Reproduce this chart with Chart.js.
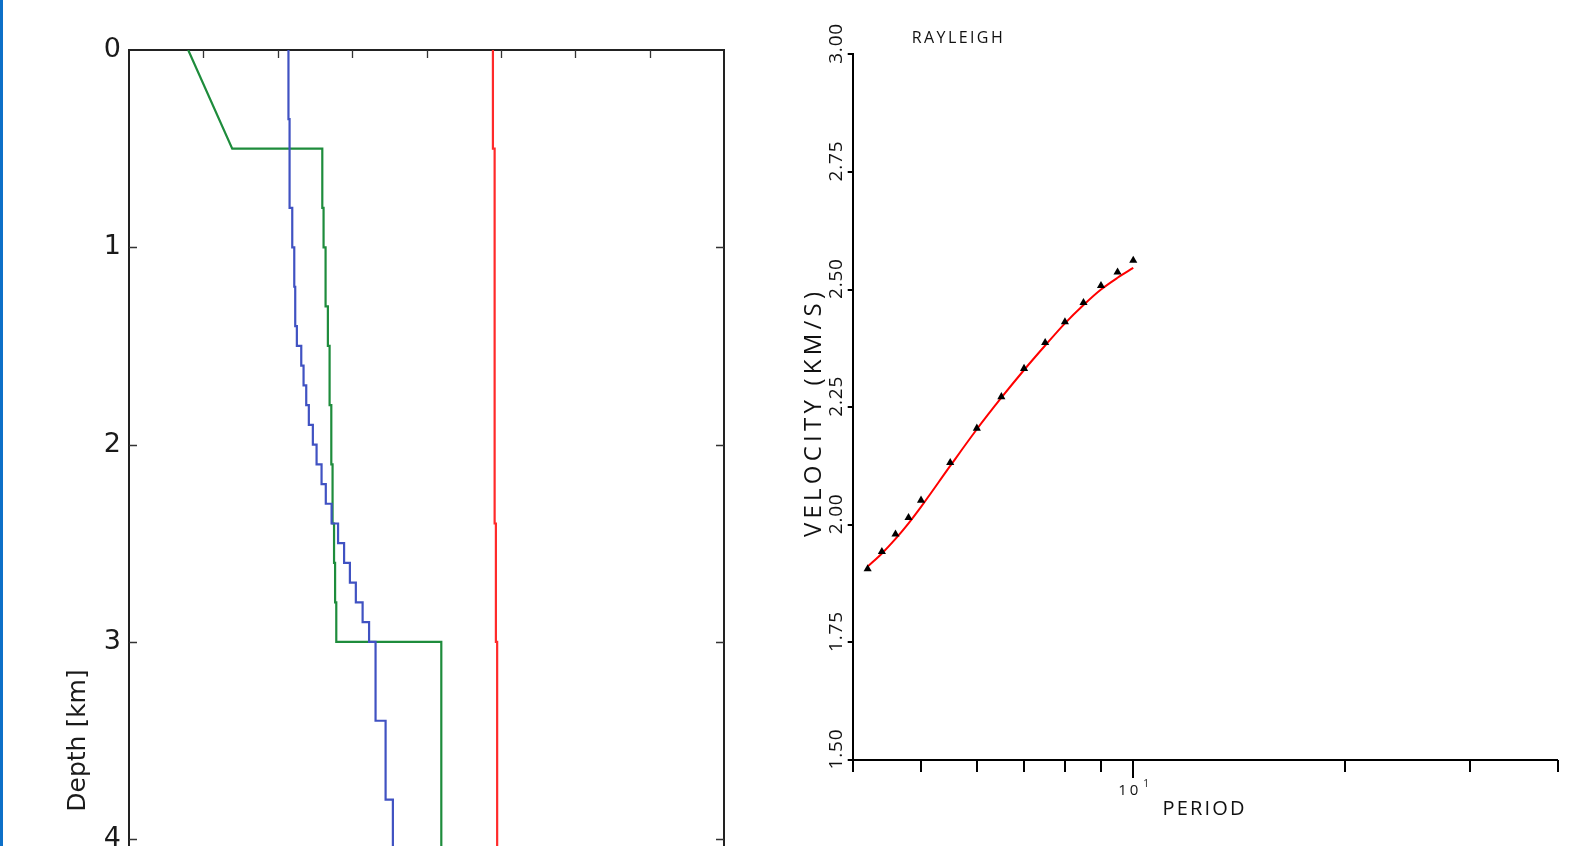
<!DOCTYPE html>
<html>
<head>
<meta charset="utf-8">
<script src="https://cdn.jsdelivr.net/npm/chart.js@4.4.1/dist/chart.umd.min.js"></script>
<style>
  html, body { margin: 0; padding: 0; background: #ffffff; overflow: hidden; width: 1581px; height: 846px; }
  #edge { position: absolute; left: 0; top: 0; width: 3px; height: 846px; background: #0d70c8; }
  #c1 { position: absolute; left: 0; top: 0; }
  #c2 { position: absolute; left: 760px; top: 0; }
</style>
</head>
<body>
<div id="edge"></div>
<canvas id="c1" width="760" height="1431"></canvas>
<canvas id="c2" width="821" height="846"></canvas>
<script>
// ================= LEFT PANEL: layered model vs depth =================
const depthTickValues = [0, 1, 2, 3, 4, 5, 6];
const modelTopTicks   = [1, 2, 3, 4, 5, 6, 7];
const modelBottom = 7;

// blue profile (layer top depth, value)
const blueDepth = [0, 0.35, 0.8, 1.0, 1.2, 1.4, 1.5, 1.6, 1.7, 1.8, 1.9, 2.0, 2.1, 2.2, 2.3, 2.4, 2.5, 2.6, 2.7, 2.8, 2.9, 3.0, 3.4, 3.8];
const blueValue = [2.144, 2.159, 2.195, 2.222, 2.235, 2.257, 2.316, 2.347, 2.383, 2.418, 2.472, 2.522, 2.589, 2.646, 2.724, 2.811, 2.892, 2.970, 3.050, 3.141, 3.228, 3.315, 3.450, 3.548];

// green profile: gradient near surface, then layers
const greenGradientDepth = [0, 0.5];
const greenGradientValue = [0.796, 1.388];
const greenDepth = [0.5, 0.8, 1.0, 1.3, 1.5, 1.8, 2.1, 2.4, 2.6, 2.8, 3.0];
const greenValue = [2.599, 2.616, 2.643, 2.674, 2.697, 2.720, 2.737, 2.757, 2.771, 2.787, 4.199];

// red profile
const redDepth = [0, 0.5, 2.4, 3.0];
const redValue = [4.893, 4.916, 4.933, 4.950];

function staircase(depths, values, bottom, lead) {
  const pts = lead ? lead.slice() : [];
  for (let i = 0; i < depths.length; i++) {
    const top = depths[i];
    const bot = i + 1 < depths.length ? depths[i + 1] : bottom;
    pts.push({ x: values[i], y: top });
    pts.push({ x: values[i], y: bot });
  }
  return pts;
}

const greenLead = greenGradientDepth.map((d, i) => ({ x: greenGradientValue[i], y: d }));

const frameTicksPlugin = {
  id: 'frameTicks',
  afterDraw(chart) {
    const { ctx, chartArea: a, scales: { x, y } } = chart;
    ctx.save();
    ctx.strokeStyle = '#222';
    ctx.lineWidth = 2;
    ctx.beginPath();
    ctx.moveTo(a.right, a.top - 1); ctx.lineTo(a.right, a.bottom);
    ctx.moveTo(a.left, a.bottom); ctx.lineTo(a.right, a.bottom);
    ctx.stroke();
    ctx.lineWidth = 1.3;
    ctx.strokeStyle = '#333';
    ctx.beginPath();
    modelTopTicks.forEach(v => {
      const px = Math.round(x.getPixelForValue(v)) + 0.5;
      ctx.moveTo(px, a.top); ctx.lineTo(px, a.top + 8);
      ctx.moveTo(px, a.bottom); ctx.lineTo(px, a.bottom - 8);
    });
    depthTickValues.forEach(v => {
      if (v === 0) return;
      const py = Math.round(y.getPixelForValue(v)) + 0.5;
      ctx.moveTo(a.left, py); ctx.lineTo(a.left + 8, py);
      ctx.moveTo(a.right, py); ctx.lineTo(a.right - 8, py);
    });
    ctx.stroke();
    ctx.restore();
  }
};

new Chart(document.getElementById('c1'), {
  type: 'scatter',
  data: {
    datasets: [
      { data: staircase(redDepth, redValue, modelBottom), borderColor: '#ff2a2a' },
      { data: staircase(blueDepth, blueValue, modelBottom), borderColor: '#4052c2' },
      { data: staircase(greenDepth, greenValue, modelBottom, greenLead), borderColor: '#1e8c3c' }
    ].map(d => Object.assign(d, { showLine: true, pointRadius: 0, borderWidth: 2.2, tension: 0, fill: false }))
  },
  options: {
    responsive: false,
    animation: false,
    events: [],
    layout: { autoPadding: false, padding: { left: 0, top: 0, right: 36, bottom: 0 } },
    plugins: { legend: { display: false }, tooltip: { enabled: false } },
    scales: {
      x: {
        type: 'linear', position: 'top', min: 0, max: 8,
        ticks: { display: false, stepSize: 1 },
        grid: { display: false, drawTicks: false },
        border: { display: true, width: 2, color: '#222' },
        afterFit(s) { s.height = 50; s.paddingLeft = 0; s.paddingRight = 0; }
      },
      y: {
        type: 'linear', position: 'left', reverse: true, min: 0, max: modelBottom,
        afterBuildTicks(s) { s.ticks = depthTickValues.map(v => ({ value: v })); },
        ticks: { font: { family: 'DejaVu Sans', size: 27 }, color: '#1a1a1a', padding: 8 },
        grid: { display: false, drawTicks: false },
        border: { display: true, width: 2, color: '#222' },
        title: { display: true, text: 'Depth [km]', font: { family: 'DejaVu Sans', size: 25 }, color: '#1a1a1a', padding: { top: 63, bottom: 0 } },
        afterFit(s) { s.width = 129; s.paddingTop = 0; s.paddingBottom = 0; }
      }
    }
  },
  plugins: [frameTicksPlugin]
});

// ================= RIGHT PANEL: Rayleigh dispersion =================
const periods  = [4.2, 4.4, 4.6, 4.8, 5.0, 5.5, 6.0, 6.5, 7.0, 7.5, 8.0, 8.5, 9.0, 9.5, 10.0];
const observed = [1.906, 1.943, 1.980, 2.015, 2.052, 2.132, 2.205, 2.272, 2.332, 2.387, 2.431, 2.472, 2.508, 2.537, 2.562];
const fitted   = [1.911, 1.939, 1.970, 2.003, 2.038, 2.125, 2.203, 2.270, 2.329, 2.381, 2.428, 2.467, 2.500, 2.525, 2.546];
const periodTicks   = [4, 5, 6, 7, 8, 9, 10, 20, 30, 40];
const periodMajor   = [10];
const velocityTicks = [1.50, 1.75, 2.00, 2.25, 2.50, 2.75, 3.00];
const titleText  = 'RAYLEIGH';
const xTitleText = 'PERIOD';
const yTitleText = 'VELOCITY (KM/S)';

const TXT_FONT = '"Open Sans", "Liberation Sans", sans-serif';

function spacedText(ctx, text, x, y, size, target, rot) {
  ctx.save();
  ctx.font = size + 'px ' + TXT_FONT;
  ctx.fillStyle = '#111';
  ctx.textBaseline = 'alphabetic';
  ctx.textAlign = 'left';
  const natural = ctx.measureText(text).width;
  const n = text.length;
  const sp = n > 1 ? (target - natural) / (n - 1) : 0;
  if ('letterSpacing' in ctx) ctx.letterSpacing = sp + 'px';
  ctx.translate(x, y);
  if (rot) ctx.rotate(rot);
  ctx.fillText(text, 0, 0);
  ctx.restore();
}

const dispersionAxesPlugin = {
  id: 'dispersionAxes',
  afterDraw(chart) {
    const { ctx, chartArea: a, scales: { x, y } } = chart;
    ctx.save();
    ctx.strokeStyle = '#000';
    ctx.lineWidth = 2;
    ctx.beginPath();
    periodTicks.forEach(p => {
      const px = Math.round(x.getPixelForValue(p));
      const len = periodMajor.includes(p) ? 18 : 12;
      ctx.moveTo(px, a.bottom); ctx.lineTo(px, a.bottom + len);
    });
    velocityTicks.forEach(v => {
      const py = Math.round(y.getPixelForValue(v));
      ctx.moveTo(a.left, py); ctx.lineTo(a.left - 5, py);
    });
    ctx.stroke();
    ctx.restore();

    // y tick labels (rotated)
    velocityTicks.forEach(v => {
      const py = y.getPixelForValue(v) - 10.5;
      spacedText(ctx, v.toFixed(2), a.left - 10.5, py + 20, 19, 40, -Math.PI / 2);
    });
    // x tick label 10^1
    periodMajor.forEach(p => {
      const px = x.getPixelForValue(p);
      spacedText(ctx, '10', px - 15, a.bottom + 35, 15, 20, 0);
      spacedText(ctx, '1', px + 10, a.bottom + 27, 10, 5, 0);
    });
    // titles
    spacedText(ctx, titleText, 151.7, 43.3, 16, 91, 0);
    spacedText(ctx, xTitleText, 402.6, 815, 20, 82, 0);
    spacedText(ctx, yTitleText, 60.5, 537, 24, 245, -Math.PI / 2);
  }
};

new Chart(document.getElementById('c2'), {
  type: 'scatter',
  data: {
    datasets: [
      {
        data: periods.map((p, i) => ({ x: p, y: observed[i] })),
        pointStyle: 'triangle', pointRadius: 4.7, backgroundColor: '#000', borderColor: '#000', borderWidth: 0, showLine: false
      },
      {
        data: periods.map((p, i) => ({ x: p, y: fitted[i] })),
        showLine: true, borderColor: '#ff0000', borderWidth: 2, pointRadius: 0, cubicInterpolationMode: 'monotone', fill: false
      }
    ]
  },
  options: {
    responsive: false,
    animation: false,
    events: [],
    layout: { autoPadding: false, padding: { left: 0, top: 54.3, right: 23.3, bottom: 0 } },
    plugins: { legend: { display: false }, tooltip: { enabled: false } },
    scales: {
      x: {
        type: 'logarithmic', position: 'bottom', min: 4, max: 40,
        ticks: { display: false },
        grid: { display: false, drawTicks: false },
        border: { display: true, width: 2, color: '#000' },
        afterFit(s) { s.height = 86; }
      },
      y: {
        type: 'linear', position: 'left', min: 1.5, max: 3.0,
        ticks: { display: false, stepSize: 0.25 },
        grid: { display: false, drawTicks: false },
        border: { display: true, width: 2, color: '#000' },
        afterFit(s) { s.width = 92.7; }
      }
    }
  },
  plugins: [dispersionAxesPlugin]
});
</script>
</body>
</html>
